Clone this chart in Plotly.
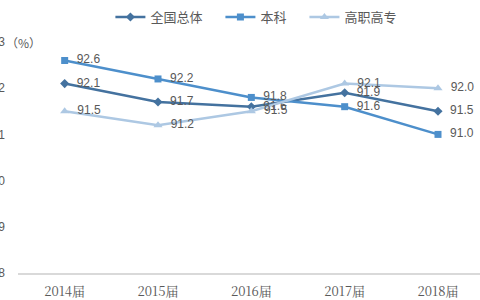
import plotly.graph_objects as go

categories = ["2014届", "2015届", "2016届", "2017届", "2018届"]
overall = [92.1, 91.7, 91.6, 91.9, 91.5]
undergrad = [92.6, 92.2, 91.8, 91.6, 91.0]
vocational = [91.5, 91.2, 91.5, 92.1, 92.0]
y_ticks = [88, 89, 90, 91, 92, 93]
y_tick_labels = ["88", "89", "90", "91", "92", "93"]

series = [
    ("全国总体", overall, "#44729F", "diamond", 7),
    ("本科", undergrad, "#4D8FCB", "square", 7),
    ("高职高专", vocational, "#ADC8E3", "triangle-up", 8),
]

fig = go.Figure()
xs = list(range(len(categories)))
for name, vals, color, sym, size in series:
    fig.add_trace(go.Scatter(
        x=xs, y=vals, name=name + "\u2002\u2002", mode="lines+markers+text",
        line=dict(color=color, width=2.5),
        marker=dict(symbol=sym, size=size, color=color),
        text=["  " + f"{v:.1f}" for v in vals],
        textposition="middle right",
        textfont=dict(family="Liberation Sans, Arial, sans-serif", size=12, color="#595959"),
        cliponaxis=False,
    ))

fig.update_layout(
    width=480, height=300,
    margin=dict(l=18, r=0, t=42, b=27),
    paper_bgcolor="white", plot_bgcolor="white",
    showlegend=True,
    legend=dict(orientation="h", x=0.2, xanchor="left", y=1.108, yanchor="middle",
                font=dict(family="Noto Sans CJK SC, sans-serif", size=13, color="#595959"),
                bgcolor="rgba(0,0,0,0)", itemwidth=30, tracegroupgap=0),
    xaxis=dict(
        tickmode="array", tickvals=xs, ticktext=categories,
        range=[-0.5, 4.45], showgrid=False, zeroline=False,
        showline=True, linecolor="#D9D9D9", linewidth=1.5, ticks="",
        tickfont=dict(family="Noto Serif CJK SC, Noto Sans CJK SC, serif", size=13, color="#595959"),
        ticklabelstandoff=6, automargin=False,
    ),
    yaxis=dict(
        tickmode="array", tickvals=y_ticks, ticktext=y_tick_labels,
        range=[88, 93], showgrid=False, zeroline=False, showline=False, ticks="",
        tickfont=dict(family="Liberation Sans, Arial, sans-serif", size=12, color="#595959"),
        ticklabelstandoff=12, automargin=False,
    ),
)

fig.add_annotation(
    xref="paper", yref="y", x=-0.03, y=93, xanchor="left", yanchor="middle",
    text="（%）", showarrow=False,
    font=dict(family="Noto Sans CJK SC, sans-serif", size=12, color="#595959"),
)

fig.write_html("out.html")
